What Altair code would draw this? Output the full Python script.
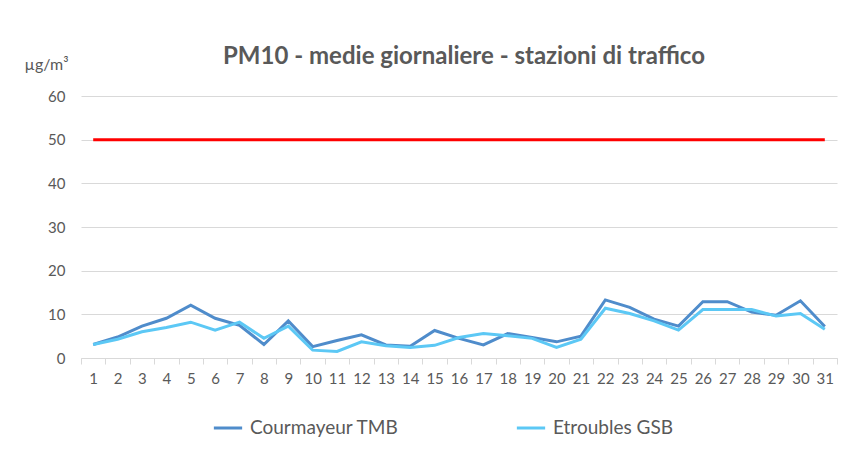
import altair as alt
import pandas as pd

days = list(range(1, 32))
courmayeur = [3.1, 4.8, 7.3, 9.1, 12.1, 9.1, 7.5, 3.1, 8.5, 2.6, 4.0, 5.3, 3.0, 2.7, 6.3,
              4.5, 3.0, 5.6, 4.7, 3.7, 5.0, 13.3, 11.6, 8.9, 7.3, 12.9, 12.9, 10.5, 9.8, 13.1, 7.2]
etroubles = [3.1, 4.3, 6.0, 7.0, 8.2, 6.4, 8.2, 4.5, 7.3, 1.8, 1.5, 3.7, 2.8, 2.4, 2.9,
             4.7, 5.6, 5.1, 4.5, 2.4, 4.3, 11.4, 10.2, 8.5, 6.4, 11.1, 11.1, 11.1, 9.6, 10.2, 6.6]
limit = [50] * 31
series_names = ["Courmayeur TMB", "Etroubles GSB"]
series_colors = ["#4f8ccb", "#5cc8f5"]

rows = []
for d, c, e in zip(days, courmayeur, etroubles):
    rows.append({"giorno": d, "stazione": series_names[0], "valore": c})
    rows.append({"giorno": d, "stazione": series_names[1], "valore": e})
df = pd.DataFrame(rows)
df_lim = pd.DataFrame({"giorno": days, "valore": limit})

FONT = "Lato"
GREY = "#595959"

x_enc = alt.X("giorno:O", bandPosition=0.5,
              scale=alt.Scale(type="band", paddingInner=0, paddingOuter=0),
              axis=alt.Axis(title=None, labelAngle=0, tickBand="extent", domainColor="#d9d9d9",
                            tickColor="#d9d9d9", tickSize=6, labelFontSize=15, labelColor=GREY,
                            labelFont=FONT, labelPadding=7, grid=False))
y_enc = alt.Y("valore:Q", scale=alt.Scale(domain=[0, 60], nice=False),
              axis=alt.Axis(values=[0, 10, 20, 30, 40, 50, 60], title="µg/m³", titleAngle=0,
                            titleAlign="left", titleBaseline="bottom", titleX=-57, titleY=-24,
                            titleFont=FONT, titleFontWeight="normal", titleFontSize=16,
                            titleColor=GREY, domain=False, ticks=False, labelPadding=16,
                            labelFontSize=15, labelColor=GREY, labelFont=FONT,
                            gridColor="#d9d9d9", gridWidth=1))

lines = alt.Chart(df).mark_line(strokeWidth=3).encode(
    x=x_enc, y=y_enc,
    color=alt.Color("stazione:N", scale=alt.Scale(domain=series_names, range=series_colors),
                    legend=alt.Legend(title=None, orient="none", direction="horizontal",
                                      legendX=131, legendY=316, columnPadding=111,
                                      symbolType="stroke", symbolStrokeWidth=3, symbolSize=800,
                                      labelFontSize=19, labelColor=GREY, labelFont=FONT,
                                      labelOffset=6)),
)

lim = alt.Chart(df_lim).mark_line(strokeWidth=3, color="#ff0000").encode(
    x=x_enc, y=y_enc)

chart = alt.layer(lim, lines).properties(
    width=756, height=262,
    autosize=alt.AutoSizeParams(type="none"),
    padding={"left": 73, "top": 88, "right": 6, "bottom": 92},
    title=alt.TitleParams("PM10 - medie giornaliere - stazioni di traffico", font=FONT,
                          fontSize=24, fontWeight="bold", color=GREY, anchor="middle",
                          offset=28, dy=41, dx=5),
).configure_view(stroke=None)

chart.save("out.html", embed_options={"renderer": "svg", "actions": False})
